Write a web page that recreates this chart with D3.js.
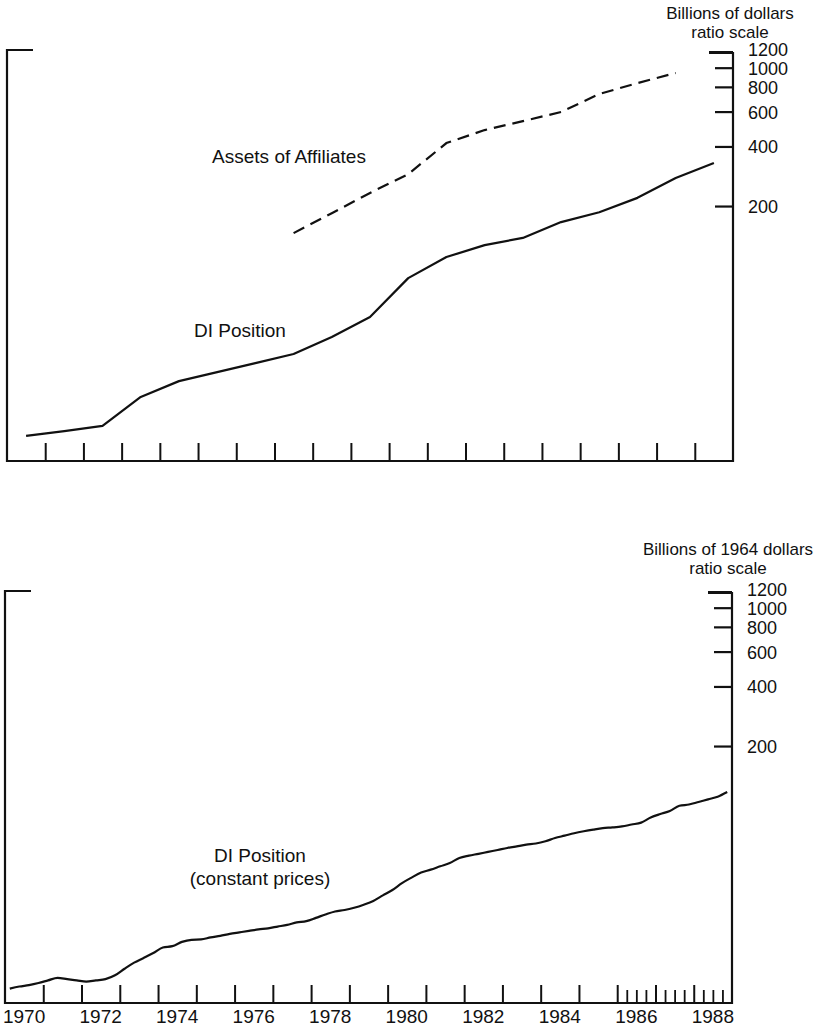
<!DOCTYPE html>
<html>
<head>
<meta charset="utf-8">
<script src="https://cdn.jsdelivr.net/npm/d3@7"></script>
<style>
  body { margin: 0; background: #fff; }
  text { font-family: "Liberation Sans", Arial, Helvetica, sans-serif; fill: #111; }
</style>
</head>
<body>
<div id="chart"></div>
<script>
// Annual values, billions of dollars (plotted at mid-year)
const years = d3.range(1970, 1989);
const diPosition = [13.8, 14.6, 15.5, 21.7, 26.1, 29.0, 32.2, 35.8, 43.6, 55.0,
                    86.5, 110.5, 127, 138, 166, 186, 220, 277, 330];

const assetYears = d3.range(1977, 1988);
const affiliateAssets = [146, 184, 233, 290, 416, 484, 537, 597, 736, 836, 940];

// Quarterly values, billions of 1964 dollars
const quarters = d3.range(76).map(i => 1970 + (i + 0.5) / 4);
const diConstant = [
  11.9, 12.2, 12.4, 12.7,   // 1970
  13.1, 13.5, 13.3, 13.1,   // 1971
  12.9, 13.1, 13.3, 13.9,   // 1972
  15.0, 16.1, 17.0, 18.0,   // 1973
  19.2, 19.5, 20.5, 21.0,   // 1974
  21.1, 21.6, 22.0, 22.5,   // 1975
  22.9, 23.3, 23.7, 24.0,   // 1976
  24.5, 25.0, 25.7, 26.1,   // 1977
  27.1, 28.2, 29.2, 29.7,   // 1978
  30.5, 31.6, 33.0, 35.2,   // 1979
  37.5, 40.6, 43.3, 45.9,   // 1980
  47.5, 49.4, 51.3, 54.4,   // 1981
  55.9, 57.1, 58.4, 59.7,   // 1982
  61.1, 62.3, 63.5, 64.4,   // 1983
  66.1, 68.6, 70.5, 72.5,   // 1984
  74.2, 75.7, 77.0, 77.6,   // 1985
  78.5, 80.3, 82.1, 87.1,   // 1986
  90.7, 93.9, 99.8, 101.3,  // 1987
  104.3, 107.6, 110.9, 117.1 // 1988
];

const yTicks = [200, 400, 600, 800, 1000, 1200];
const yearTicks = d3.range(1971, 1989);
const quarterTicks = d3.range(1986, 1989, 0.25).filter(d => d % 1 !== 0);
const yearLabels = d3.range(1970, 1989, 2);

const width = 825;
const height = 1035;
const ink = "#111";

const svg = d3.select("#chart")
  .append("svg")
  .attr("width", width)
  .attr("height", height);

// draws one panel frame + axes, returns its scales
function drawPanel(o) {
  const g = svg.append("g");
  const x = d3.scaleLinear().domain([1970, 1989]).range([o.left, o.right]);
  const y = d3.scaleLog().domain([10, 1200]).range([o.y10, o.y1200]);

  // frame: top-left stub, left side, bottom, right side
  g.append("path")
    .attr("d", `M${o.left + 26},${o.top}H${o.left}V${o.base}H${o.right}V${y(1200)}`)
    .attr("fill", "none")
    .attr("stroke", ink)
    .attr("stroke-width", 2.2);

  // year ticks along the bottom
  g.append("g")
    .attr("transform", `translate(0,${o.base})`)
    .call(d3.axisBottom(x).tickValues(yearTicks).tickSize(-18).tickFormat(""))
    .call(a => a.select(".domain").remove())
    .call(a => a.selectAll("line").attr("stroke", ink).attr("stroke-width", 2));

  if (o.minor) {
    g.append("g")
      .attr("transform", `translate(0,${o.base})`)
      .call(d3.axisBottom(x).tickValues(quarterTicks).tickSize(-13).tickFormat(""))
      .call(a => a.select(".domain").remove())
      .call(a => a.selectAll("line").attr("stroke", ink).attr("stroke-width", 1.8));
  }

  // ratio scale on the right
  g.append("g")
    .attr("transform", `translate(${o.right},0)`)
    .call(d3.axisRight(y).tickValues(yTicks).tickSize(-18).tickPadding(15)
      .tickFormat(d3.format("d")))
    .call(a => a.select(".domain").remove())
    .call(a => a.selectAll("line").attr("stroke", ink).attr("stroke-width", 2.2))
    .call(a => a.selectAll(".tick").filter(d => d === 1200).select("line")
      .attr("x2", -24).attr("stroke-width", 3))
    .call(a => a.selectAll("text")
      .style("font-size", "18px")
      .attr("fill", ink)
      .attr("dy", d => d === 1200 ? "0.22em" : "0.36em"));

  // unit caption
  const cap = g.append("g").attr("text-anchor", "middle").style("font-size", "17px");
  cap.append("text").attr("x", o.capX).attr("y", o.capY).text(o.caption);
  cap.append("text").attr("x", o.capX).attr("y", o.capY + 19).text("ratio scale");

  return { g, x, y };
}

// Top panel: nominal
const upper = drawPanel({
  left: 7, right: 733, top: 50, base: 461, y1200: 52, y10: 463.6,
  caption: "Billions of dollars", capX: 730, capY: 19
});

upper.g.append("path")
  .datum(years)
  .attr("fill", "none")
  .attr("stroke", ink)
  .attr("stroke-width", 2.2)
  .attr("stroke-linejoin", "round")
  .attr("d", d3.line()
    .x(d => upper.x(d + 0.5))
    .y((d, i) => upper.y(diPosition[i])));

upper.g.append("path")
  .datum(assetYears)
  .attr("fill", "none")
  .attr("stroke", ink)
  .attr("stroke-width", 2.2)
  .attr("stroke-dasharray", "12,7")
  .attr("d", d3.line()
    .x(d => upper.x(d + 0.5))
    .y((d, i) => upper.y(affiliateAssets[i])));

upper.g.append("text")
  .attr("x", 289).attr("y", 163)
  .attr("text-anchor", "middle")
  .style("font-size", "19px")
  .text("Assets of Affiliates");

upper.g.append("text")
  .attr("x", 240).attr("y", 337)
  .attr("text-anchor", "middle")
  .style("font-size", "19px")
  .text("DI Position");

// Bottom panel: constant prices
const lower = drawPanel({
  left: 5, right: 732, top: 591, base: 1003, y1200: 592, y10: 1003.6,
  caption: "Billions of 1964 dollars", capX: 728, capY: 555, minor: true
});

lower.g.append("path")
  .datum(quarters)
  .attr("fill", "none")
  .attr("stroke", ink)
  .attr("stroke-width", 2.2)
  .attr("stroke-linejoin", "round")
  .attr("d", d3.line()
    .curve(d3.curveMonotoneX)
    .x(d => lower.x(d))
    .y((d, i) => lower.y(diConstant[i])));

lower.g.append("g")
  .attr("text-anchor", "middle")
  .style("font-size", "19px")
  .selectAll("text")
  .data(yearLabels)
  .join("text")
  .attr("x", d => lower.x(d + 0.5))
  .attr("y", 1023)
  .text(d => d);

const lbl = lower.g.append("g").attr("text-anchor", "middle").style("font-size", "19px");
lbl.append("text").attr("x", 260).attr("y", 862).text("DI Position");
lbl.append("text").attr("x", 260).attr("y", 885).text("(constant prices)");
</script>
</body>
</html>
